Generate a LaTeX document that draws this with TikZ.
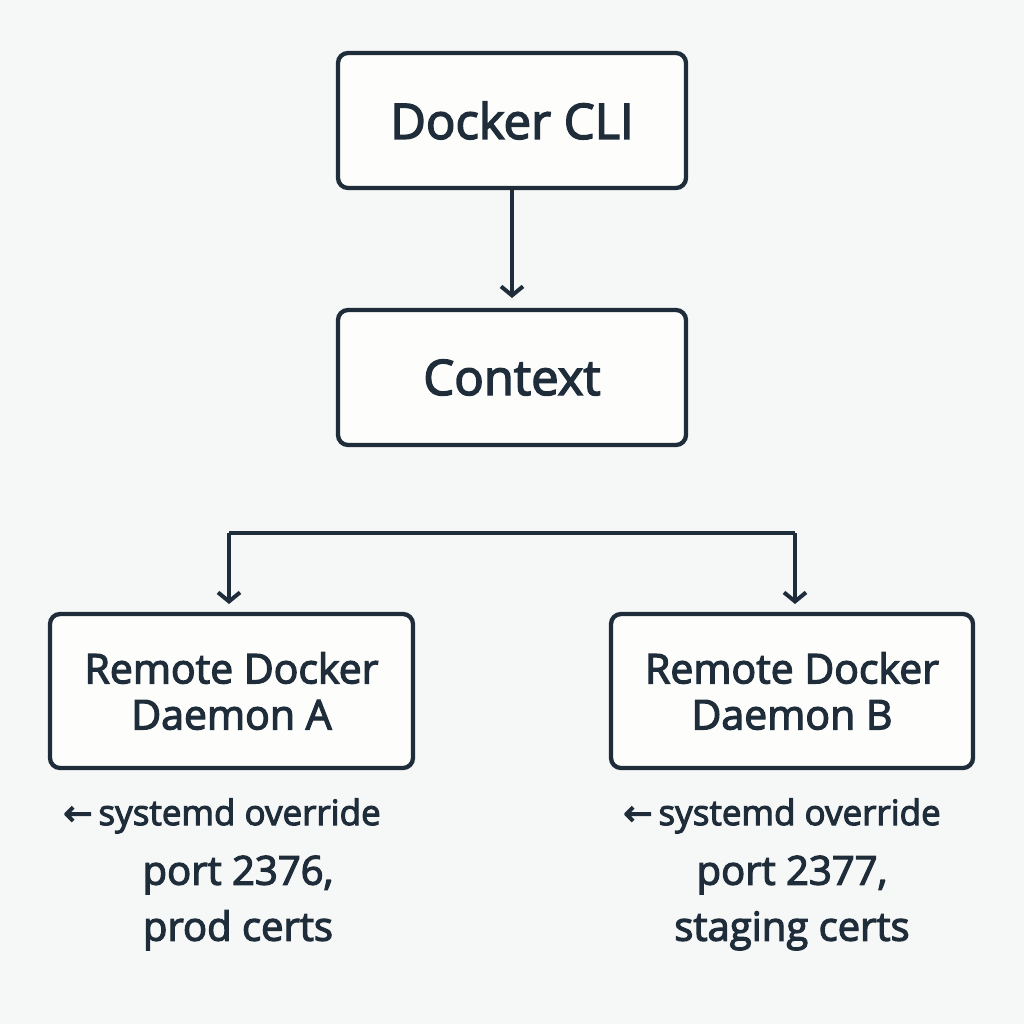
\documentclass[tikz,border=0pt]{standalone}
\usepackage{fontspec}
\setmainfont{Open Sans}[UprightFeatures={FakeBold=3}]
\newfontfamily\arrowfont{DejaVu Sans}[FakeBold=3]
\usetikzlibrary{arrows.meta}
\definecolor{ink}{HTML}{1F2D3A}
\definecolor{bg}{HTML}{F6F7F7}
\definecolor{boxfill}{HTML}{FDFDFB}
\begin{document}
\begin{tikzpicture}[x=1pt,y=-1pt,
  box/.style={draw=ink,line width=4.3pt,rounded corners=10pt,fill=boxfill,text=ink,align=center,font=\fontsize{41}{46}\selectfont},
  conn/.style={draw=ink,line width=4pt,-{Straight Barb[length=9pt,width=22pt,line width=4pt]}},
  note/.style={text=ink,align=center}]
\fill[bg] (0,0) rectangle (1024,1024);
\useasboundingbox (0,0) rectangle (1024,1024);
\node[box,minimum width=348pt,minimum height=135pt,font=\fontsize{49}{54}\selectfont] (cli) at (512,120.5) {Docker CLI};
\node[box,minimum width=348pt,minimum height=135pt,font=\fontsize{49}{54}\selectfont] (ctx) at (512,377.5) {Context};
\node[box,minimum width=363pt,minimum height=154pt] (a) at (231.5,691) {Remote Docker\\Daemon A};
\node[box,minimum width=362pt,minimum height=154pt] (b) at (792,691) {Remote Docker\\Daemon B};
\coordinate (ct) at (512,298);
\draw[conn] (cli.south) -- (ct);
\coordinate (la) at (229,533);
\coordinate (lb) at (795,533);
\coordinate (ea) at (229,604);
\coordinate (eb) at (795,604);
\draw[draw=ink,line width=4pt] (la) -- (lb);
\draw[conn] (la) -- (ea);
\draw[conn] (lb) -- (eb);
\node[note,font=\fontsize{35}{40}\selectfont] (na) at (222,816) {{\arrowfont ←}\,systemd override};
\node[note,font=\fontsize{40}{56}\selectfont] (pa) at (238,903) {port 2376,\\prod certs};
\node[note,font=\fontsize{35}{40}\selectfont] (nb) at (782,816) {{\arrowfont ←}\,systemd override};
\node[note,font=\fontsize{40}{56}\selectfont] (pb) at (792,903) {port 2377,\\staging certs};
\end{tikzpicture}
\end{document}
